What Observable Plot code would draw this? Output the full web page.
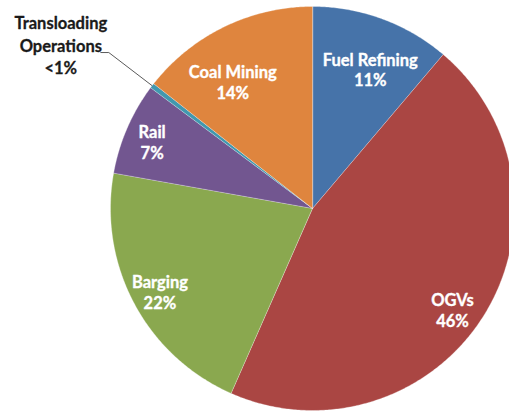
<!DOCTYPE html>
<html>
<head>
<meta charset="utf-8">
<script src="https://cdn.jsdelivr.net/npm/d3@7"></script>
<script src="https://cdn.jsdelivr.net/npm/@observablehq/plot@0.6"></script>
<style>
  html, body { margin: 0; padding: 0; background: #fff; overflow: hidden; }
</style>
</head>
<body>
<div id="chart"></div>
<script>
// ---- data ----
const names = ["Fuel Refining", "OGVs", "Barging", "Rail", "Transloading Operations", "Coal Mining"];
const values = [11.2, 45.4, 21.2, 7.4, 0.4, 14.4];
const pctLabels = ["11%", "46%", "22%", "7%", "<1%", "14%"];
const colors = ["#4673A9", "#AA4643", "#8AA84F", "#725690", "#4198AF", "#DF853E"];

// ---- layout (label placement relative to slice mid-angle) ----
const labelRadius = [0.745, 0.855, 0.86, 0.86, null, 0.74];
const labelAngleShift = [2.4, 3.8, -0.5, -0.8, 0, -6.3]; // degrees

const total = d3.sum(values);
const slices = [];
let acc = 0;
names.forEach((n, i) => {
  const a0 = acc / total * 2 * Math.PI;
  acc += values[i];
  const a1 = acc / total * 2 * Math.PI;
  slices.push({name: n, a0, a1, mid: (a0 + a1) / 2, i});
});

const pts = [];
for (const s of slices) {
  pts.push({name: s.name, x: 0, y: 0});
  const N = Math.max(2, Math.ceil((s.a1 - s.a0) / (Math.PI / 360)));
  for (let k = 0; k <= N; k++) {
    const a = s.a0 + (s.a1 - s.a0) * k / N;
    pts.push({name: s.name, x: Math.sin(a), y: Math.cos(a)});
  }
}

const inside = slices.filter(s => labelRadius[s.i] != null).map(s => {
  const a = s.mid + labelAngleShift[s.i] * Math.PI / 180;
  const r = labelRadius[s.i];
  return {x: r * Math.sin(a), y: r * Math.cos(a), text: s.name + "\n" + pctLabels[s.i]};
});

const tr = slices[4];
const elbowR = 1.27;
const leader = [
  {x: Math.sin(tr.mid), y: Math.cos(tr.mid)},
  {x: elbowR * Math.sin(tr.mid), y: elbowR * Math.cos(tr.mid)},
  {x: elbowR * Math.sin(tr.mid) - 8 / 202, y: elbowR * Math.cos(tr.mid)}
];
const outside = [{x: leader[1].x, y: leader[1].y, text: "Transloading\nOperations\n" + pctLabels[4]}];

const chart = Plot.plot({
  width: 509,
  height: 412,
  margin: 0,
  x: {domain: [-1, 1], range: [110, 514], axis: null},
  y: {domain: [-1, 1], range: [410, 6], axis: null},
  color: {domain: names, range: colors},
  style: {fontFamily: "Lato, sans-serif", background: "#fff"},
  marks: [
    Plot.line(pts, {x: "x", y: "y", z: "name", fill: "name", stroke: "#ffffff", strokeOpacity: 0.5, strokeWidth: 0.6, curve: "linear-closed"}),
    Plot.line(leader, {x: "x", y: "y", stroke: "#5a5a5a", strokeWidth: 1}),
    Plot.text(inside, {x: "x", y: "y", text: "text", fill: "#ffffff", stroke: "#ffffff", strokeWidth: 0.35, fontSize: 16.5, fontWeight: "bold", lineHeight: 1.25}),
    Plot.text(outside, {x: "x", y: "y", text: "text", fill: "#1a1a1a", stroke: "#1a1a1a", strokeWidth: 0.3, fontSize: 16.5, fontWeight: "bold", lineHeight: 1.35, dx: -48, dy: -8})
  ]
});
document.getElementById("chart").appendChild(chart);
</script>
</body>
</html>
